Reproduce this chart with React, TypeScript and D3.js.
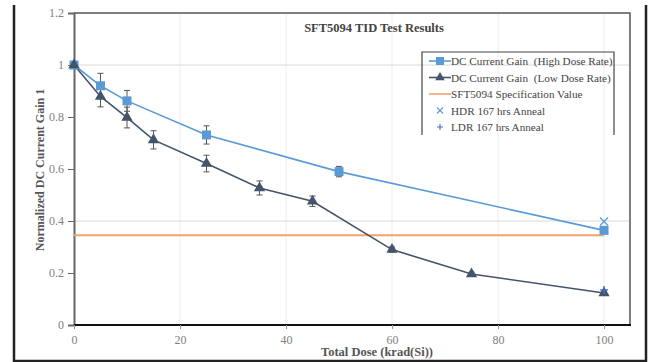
import { useEffect, useRef } from 'react'
import * as d3 from 'd3'

const doseHigh = [0, 5, 10, 25, 50, 100]
const gainHigh = [1.0, 0.92, 0.862, 0.731, 0.59, 0.364]
const errHigh = [0.008, 0.048, 0.04, 0.035, 0.02, 0.012]

const doseLow = [0, 5, 10, 15, 25, 35, 45, 60, 75, 100]
const gainLow = [1.0, 0.879, 0.798, 0.712, 0.621, 0.527, 0.476, 0.29, 0.196, 0.123]
const errLow = [0.008, 0.04, 0.04, 0.035, 0.032, 0.027, 0.02, 0.01, 0.007, 0.008]

const specValue = 0.345
const hdrAnneal = [{ dose: 100, gain: 0.398 }]
const ldrAnneal = [{ dose: 100, gain: 0.135 }]

const xTicks = [0, 20, 40, 60, 80, 100]
const yTicks = [0, 0.2, 0.4, 0.6, 0.8, 1, 1.2]
const yGrid = [0.4, 1.0]

const legendLabels = [
  'DC Current Gain  (High Dose Rate)',
  'DC Current Gain  (Low Dose Rate)',
  'SFT5094 Specification Value',
  'HDR 167 hrs Anneal',
  'LDR 167 hrs Anneal',
]

const BLUE = '#5b9bd5'
const SLATE = '#44546a'
const ORANGE = '#f4a26c'
const FONT = '"Liberation Serif", "DejaVu Serif", serif'

export default function App() {
  const ref = useRef<SVGSVGElement | null>(null)

  useEffect(() => {
    if (!ref.current) return
    const svg = d3.select(ref.current)
    svg.selectAll('*').remove()

    const x = d3.scaleLinear().domain([0, 104.9]).range([74, 630])
    const y = d3.scaleLinear().domain([0, 1.2]).range([325, 13])

    // outer frame
    svg.append('path')
      .attr('d', `M14,5 V361 H646 V5`)
      .attr('fill', 'none').attr('stroke', '#222').attr('stroke-width', 2.5)

    // grid
    svg.append('g').selectAll('line').data(xTicks.slice(1)).join('line')
      .attr('x1', (d) => x(d)).attr('x2', (d) => x(d))
      .attr('y1', y(1.2)).attr('y2', y(0))
      .attr('stroke', '#ececec').attr('stroke-width', 1)
    svg.append('g').selectAll('line').data(yGrid).join('line')
      .attr('x1', x(0)).attr('x2', 630)
      .attr('y1', (d) => y(d)).attr('y2', (d) => y(d))
      .attr('stroke', '#d9d9d9').attr('stroke-width', 1)

    // plot box top / right
    svg.append('path')
      .attr('d', `M${x(0)},${y(1.2)} H630 V${y(0)}`)
      .attr('fill', 'none').attr('stroke', '#555').attr('stroke-width', 1.5)

    // axes
    const yAxis = svg.append('g').attr('transform', `translate(${x(0)},0)`)
      .call(d3.axisLeft(y).tickValues(yTicks).tickSize(6).tickPadding(4).tickFormat((d) => String(+d)))
      .attr('font-family', FONT).attr('font-size', 12)
    yAxis.select('.domain').attr('stroke', '#666').attr('stroke-width', 2)
    yAxis.selectAll('.tick line').attr('stroke', '#666')
    yAxis.selectAll('text').attr('fill', '#808080')

    const xAxis = svg.append('g').attr('transform', `translate(0,${y(0)})`)
      .call(d3.axisBottom(x).tickValues(xTicks).tickSize(4).tickPadding(6))
      .attr('font-family', FONT).attr('font-size', 12)
    xAxis.select('.domain').attr('d', `M${x(0)},0H631`).attr('stroke', '#111').attr('stroke-width', 2)
    xAxis.selectAll('.tick line').attr('stroke', '#999')
    xAxis.selectAll('text').attr('fill', '#808080')

    // spec line
    svg.append('line')
      .attr('x1', x(0)).attr('x2', x(100))
      .attr('y1', y(specValue)).attr('y2', y(specValue))
      .attr('stroke', ORANGE).attr('stroke-width', 2)

    const high = doseHigh.map((d, i) => ({ dose: d, gain: gainHigh[i], err: errHigh[i] }))
    const low = doseLow.map((d, i) => ({ dose: d, gain: gainLow[i], err: errLow[i] }))
    const line = d3.line<{ dose: number; gain: number }>().x((d) => x(d.dose)).y((d) => y(d.gain))

    const drawErr = (data: { dose: number; gain: number; err: number }[]) => {
      const g = svg.append('g').attr('stroke', '#555').attr('stroke-width', 1)
      g.selectAll('path').data(data).join('path')
        .attr('fill', 'none')
        .attr('d', (d) => {
          const cx = x(d.dose), t = y(d.gain + d.err), b = y(d.gain - d.err)
          return `M${cx - 3},${t}H${cx + 3}M${cx},${t}V${b}M${cx - 3},${b}H${cx + 3}`
        })
    }
    drawErr(high)
    drawErr(low)

    svg.append('path').datum(high).attr('d', line).attr('fill', 'none')
      .attr('stroke', BLUE).attr('stroke-width', 1.6)
    svg.append('path').datum(low).attr('d', line).attr('fill', 'none')
      .attr('stroke', SLATE).attr('stroke-width', 1.6)

    svg.append('g').selectAll('rect').data(high).join('rect')
      .attr('x', (d) => x(d.dose) - 4.5).attr('y', (d) => y(d.gain) - 4.5)
      .attr('width', 9).attr('height', 9).attr('fill', BLUE)

    const tri = d3.symbol().type(d3.symbolTriangle).size(55)
    svg.append('g').selectAll('path').data(low).join('path')
      .attr('transform', (d) => `translate(${x(d.dose)},${y(d.gain)})`)
      .attr('d', tri).attr('fill', SLATE)

    const xPath = 'M-4,-4L4,4M-4,4L4,-4'
    const pPath = 'M-4,0H4M0,-4V4'
    svg.append('g').selectAll('path').data(hdrAnneal).join('path')
      .attr('transform', (d) => `translate(${x(d.dose)},${y(d.gain)})`)
      .attr('d', xPath).attr('stroke', BLUE).attr('stroke-width', 1.3).attr('fill', 'none')
    svg.append('g').selectAll('path').data(ldrAnneal).join('path')
      .attr('transform', (d) => `translate(${x(d.dose)},${y(d.gain)})`)
      .attr('d', pPath).attr('stroke', '#4472c4').attr('stroke-width', 1.3).attr('fill', 'none')

    // title
    svg.append('text').attr('x', 374).attr('y', 32).attr('text-anchor', 'middle')
      .attr('font-family', FONT).attr('font-size', 12.5).attr('font-weight', 'bold')
      .attr('fill', '#444').text('SFT5094 TID Test Results')

    // axis titles
    svg.append('text').attr('transform', `translate(44,170) rotate(-90)`).attr('text-anchor', 'middle')
      .attr('font-family', FONT).attr('font-size', 12).attr('font-weight', 'bold')
      .attr('fill', '#555').text('Normalized DC Current Gain 1')
    svg.append('text').attr('x', 377).attr('y', 356).attr('text-anchor', 'middle')
      .attr('font-family', FONT).attr('font-size', 12.5).attr('font-weight', 'bold')
      .attr('fill', '#555').text('Total Dose (krad(Si))')

    // legend
    const lg = svg.append('g')
    lg.append('path').attr('d', 'M422,135 V52 H614 V135')
      .attr('fill', 'none').attr('stroke', '#444').attr('stroke-width', 1.2)
    const rowY = (i: number) => 61 + i * 16.5
    legendLabels.forEach((label, i) => {
      const cy = rowY(i)
      if (i < 3) {
        lg.append('line').attr('x1', 429).attr('x2', 451).attr('y1', cy).attr('y2', cy)
          .attr('stroke', [BLUE, SLATE, ORANGE][i]).attr('stroke-width', 1.6)
      }
      if (i === 0) lg.append('rect').attr('x', 436).attr('y', cy - 4).attr('width', 8).attr('height', 8).attr('fill', BLUE)
      if (i === 1) lg.append('path').attr('transform', `translate(440,${cy})`).attr('d', d3.symbol().type(d3.symbolTriangle).size(40)).attr('fill', SLATE)
      if (i === 3) lg.append('path').attr('transform', `translate(440,${cy})`).attr('d', 'M-3,-3L3,3M-3,3L3,-3').attr('stroke', BLUE).attr('stroke-width', 1.1)
      if (i === 4) lg.append('path').attr('transform', `translate(440,${cy})`).attr('d', 'M-3,0H3M0,-3V3').attr('stroke', '#4472c4').attr('stroke-width', 1.1)
      lg.append('text').attr('x', 451).attr('y', cy + 4)
        .attr('font-family', FONT).attr('font-size', 11.2).attr('fill', '#444')
        .style('white-space', 'pre').text(label)
    })
  }, [])

  return (
    <div style={{ position: 'absolute', left: 0, top: 0 }}>
      <svg ref={ref} width={649} height={362} style={{ display: 'block', background: '#fff' }} />
    </div>
  )
}
